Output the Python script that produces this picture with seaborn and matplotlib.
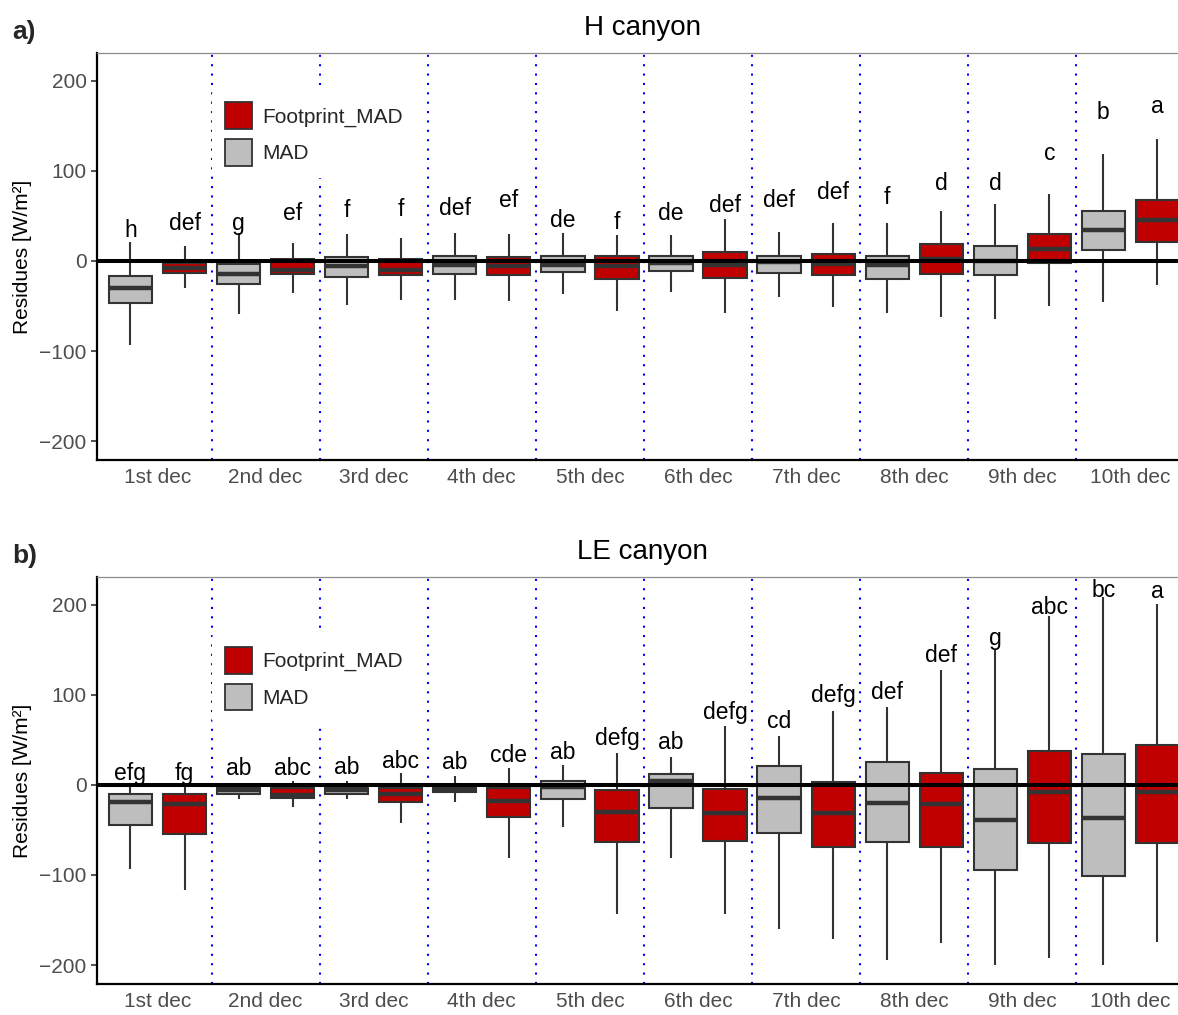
import matplotlib
matplotlib.use("Agg")
import matplotlib.pyplot as plt
import pandas as pd
import seaborn as sns
from matplotlib.patches import Patch

# deciles on the x axis
deciles = ["1st dec", "2nd dec", "3rd dec", "4th dec", "5th dec",
           "6th dec", "7th dec", "8th dec", "9th dec", "10th dec"]

# box summaries per decile: lower whisker, Q1, median, Q3, upper whisker
h_mad = [(-93, -47, -30, -17, 21), (-59, -26, -14, -3, 31), (-49, -18, -6, 4, 30),
         (-43, -14, -5, 6, 31), (-37, -12, -4, 6, 31), (-34, -11, -2, 6, 29),
         (-40, -13, -1, 6, 32), (-58, -20, -4, 6, 42), (-64, -16, 0, 17, 63),
         (-45, 12, 34, 55, 119)]
h_foot = [(-30, -13, -8, -2, 17), (-36, -14, -10, 2, 20), (-43, -16, -10, 2, 26),
          (-44, -16, -6, 4, 30), (-56, -20, -6, 5, 29), (-58, -19, -5, 10, 47),
          (-51, -16, -3, 8, 42), (-62, -14, 2, 19, 55), (-50, -2, 13, 30, 74),
          (-27, 21, 46, 68, 136)]
le_mad = [(-93, -45, -19, -10, -2), (-16, -10, -6, -3, -1), (-16, -10, -6, -3, 4),
          (-19, -8, -6, -3, 10), (-47, -16, -2, 4, 22), (-81, -26, 4, 12, 31),
          (-160, -53, -14, 21, 54), (-194, -63, -20, 26, 87), (-200, -94, -39, 18, 150),
          (-200, -101, -37, 34, 209)]
le_foot = [(-117, -55, -21, -10, -2), (-25, -14, -11, -3, 4), (-42, -19, -10, -3, 13),
           (-81, -36, -18, -3, 19), (-143, -63, -30, -6, 36), (-143, -62, -31, -5, 65),
           (-171, -69, -31, 3, 82), (-176, -69, -21, 13, 128), (-192, -65, -8, 38, 188),
           (-174, -65, -8, 44, 201)]

# significance letters and their baseline heights
h_mad_let = ["h", "g", "f", "def", "de", "de", "def", "f", "d", "b"]
h_foot_let = ["def", "ef", "f", "ef", "f", "def", "def", "d", "c", "a"]
h_mad_y = [27, 34, 49, 51, 38, 46, 60, 63, 79, 158]
h_foot_y = [34, 45, 50, 60, 35, 54, 69, 79, 112, 164]
le_mad_let = ["efg", "ab", "ab", "ab", "ab", "ab", "cd", "def", "g", "bc"]
le_foot_let = ["fg", "abc", "abc", "cde", "defg", "defg", "defg", "def", "abc", "a"]
le_mad_y = [6, 11, 12, 18, 29, 40, 63, 95, 155, 209]
le_foot_y = [6, 11, 19, 26, 44, 73, 92, 137, 190, 208]

methods = ["MAD", "Footprint_MAD"]
palette = {"MAD": "#BEBEBE", "Footprint_MAD": "#C00000"}
edge = "#333333"

sns.set_style("white")
plt.rcParams["font.family"] = ["Liberation Sans", "DejaVu Sans"]


def draw_panel(ax, mad, foot, mad_let, foot_let, mad_y, foot_y, title, legend_y):
    rows = []
    for d, dec in enumerate(deciles):
        for m, stats in zip(methods, (mad[d], foot[d])):
            for v in stats:
                rows.append({"decile": dec, "method": m, "value": v})
    df = pd.DataFrame(rows)

    for i in range(9):
        ax.axvline(i + 0.5, color="blue", lw=1.5, ls=(0, (1, 3.5)), zorder=0)

    sns.boxplot(data=df, x="decile", y="value", hue="method", order=deciles,
                hue_order=methods, palette=palette, saturation=1, width=1.0, gap=0.2,
                whis=(0, 100), showcaps=False, showfliers=False, linecolor=edge,
                linewidth=1.5, medianprops={"linewidth": 3.2, "color": edge},
                legend=False, ax=ax)

    ax.axhline(0, color="black", lw=2.9, zorder=6)

    for d in range(10):
        ax.text(d - 0.25, mad_y[d], mad_let[d], ha="center", va="baseline",
                fontsize=16.5, color="black", zorder=7)
        ax.text(d + 0.25, foot_y[d], foot_let[d], ha="center", va="baseline",
                fontsize=16.5, color="black", zorder=7)

    ax.set_xlim(-0.56, 9.44)
    ax.set_ylim(-221, 231)
    ax.set_yticks([-200, -100, 0, 100, 200])
    ax.set_xticks(range(10))
    ax.set_xticklabels(deciles)
    ax.set_xticks([d + s for d in range(10) for s in (-0.25, 0.25)], minor=True)
    ax.tick_params(axis="x", which="major", length=0, pad=6, labelsize=15,
                   labelcolor="#4D4D4D")
    ax.tick_params(axis="x", which="minor", length=4, width=1.2, color=edge)
    ax.tick_params(axis="y", length=4, width=1.2, color=edge, labelsize=15,
                   labelcolor="#4D4D4D", left=True)
    ax.set_xlabel("")
    ax.set_ylabel("Residues [W/m²]", fontsize=15, labelpad=5, color="black")
    ax.set_title(title, fontsize=20, pad=13, x=0.505, color="black")

    for s in ("left", "bottom"):
        ax.spines[s].set_color("black")
        ax.spines[s].set_linewidth(1.6)
    ax.spines["top"].set_color("#8C8C8C")
    ax.spines["top"].set_linewidth(0.9)
    ax.spines["right"].set_visible(False)

    handles = [Patch(facecolor=palette["Footprint_MAD"], edgecolor=edge, lw=1.3),
               Patch(facecolor=palette["MAD"], edgecolor=edge, lw=1.3)]
    leg = ax.legend(handles, ["Footprint_MAD", "MAD"], loc="upper left",
                    bbox_to_anchor=(0.1068, legend_y), borderaxespad=0,
                    frameon=True, facecolor="white", edgecolor="none", framealpha=1,
                    fontsize=15, handlelength=1.3, handleheight=1.6,
                    labelspacing=0.48, handletextpad=0.5, borderpad=0.6)
    leg.set_zorder(3)


fig = plt.figure(figsize=(11.78, 10.15), dpi=100)
ax1 = fig.add_axes([0.0823, 0.5468, 0.9177, 0.401])
ax2 = fig.add_axes([0.0823, 0.0306, 0.9177, 0.401])

draw_panel(ax1, h_mad, h_foot, h_mad_let, h_foot_let, h_mad_y, h_foot_y,
           "H canyon", 0.910)
draw_panel(ax2, le_mad, le_foot, le_mad_let, le_foot_let, le_mad_y, le_foot_y,
           "LE canyon", 0.859)

fig.text(12 / 1178, 1 - 39 / 1015, "a)", fontsize=19, fontweight="bold", va="baseline")
fig.text(12 / 1178, 1 - 563 / 1015, "b)", fontsize=19, fontweight="bold", va="baseline")

fig.savefig("out.png", dpi=100)
